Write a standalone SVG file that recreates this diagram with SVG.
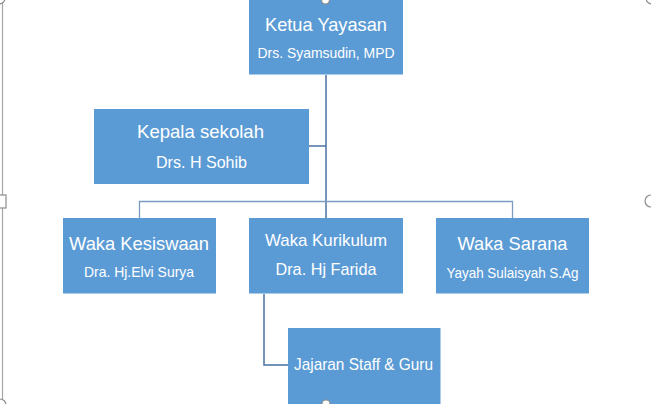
<svg xmlns="http://www.w3.org/2000/svg" width="651" height="404" viewBox="0 0 651 404">
<style>
.box{fill:#5b9bd5;}
.t{font-family:"Liberation Sans","Open Sans",sans-serif;fill:#ffffff;text-anchor:middle;}
.big{font-size:19px;}
.mid{font-size:17px;}
.sm{font-size:14.5px;}
.ln{fill:none;stroke:#4a72a0;stroke-width:1.5;}
.bus{fill:none;stroke:#7b9cc2;stroke-width:1.3;}
.frame{fill:none;stroke:#a6a6a6;stroke-width:1.2;}
.h{fill:#ffffff;stroke:#8c8c8c;stroke-width:1.2;}
</style>
<rect width="651" height="404" fill="#ffffff"/>
<g id="frame">
<line class="frame" x1="2.5" y1="0" x2="2.5" y2="404"/>
<circle class="h" cx="-1" cy="-2" r="6"/>
<circle class="h" cx="652" cy="-2" r="6"/>
<rect class="h" x="-6" y="195" width="12" height="13"/>
<circle class="h" cx="651" cy="201" r="6"/>
<circle class="h" cx="0" cy="405" r="6"/>
</g>
<g id="connectors">
<line class="ln" x1="326" y1="75" x2="326" y2="218"/>
<line class="ln" x1="309" y1="146" x2="326" y2="146"/>
<polyline class="bus" points="139.5,218 139.5,201.5 512.5,201.5 512.5,218"/>
<polyline class="ln" points="264,294 264,365 288,365"/>
</g>
<g id="ketua">
<rect class="box" x="249" y="0" width="154" height="74.5"/>
<text class="t big" x="326" y="30.5" textLength="122" lengthAdjust="spacingAndGlyphs">Ketua Yayasan</text>
<text class="t sm" x="326" y="58" textLength="137" lengthAdjust="spacingAndGlyphs">Drs. Syamsudin, MPD</text>
</g>
<g id="kepala">
<rect class="box" x="94" y="109" width="215" height="75"/>
<text class="t big" x="200.5" y="137.5" textLength="127" lengthAdjust="spacingAndGlyphs">Kepala sekolah</text>
<text class="t mid" x="201.5" y="168" textLength="91" lengthAdjust="spacingAndGlyphs">Drs. H Sohib</text>
</g>
<g id="kesiswaan">
<rect class="box" x="63" y="218" width="153" height="75.5"/>
<text class="t big" x="139" y="250" textLength="140" lengthAdjust="spacingAndGlyphs">Waka Kesiswaan</text>
<text class="t sm" x="139" y="277" textLength="110" lengthAdjust="spacingAndGlyphs">Dra. Hj.Elvi Surya</text>
</g>
<g id="kurikulum">
<rect class="box" x="249" y="218" width="154" height="75.5"/>
<text class="t mid" x="326" y="246" textLength="122" lengthAdjust="spacingAndGlyphs">Waka Kurikulum</text>
<text class="t mid" x="326" y="275" textLength="101" lengthAdjust="spacingAndGlyphs">Dra. Hj Farida</text>
</g>
<g id="sarana">
<rect class="box" x="436" y="218" width="153" height="75.5"/>
<text class="t big" x="512.5" y="250" textLength="110" lengthAdjust="spacingAndGlyphs">Waka Sarana</text>
<text class="t sm" x="512.5" y="277.5" textLength="132" lengthAdjust="spacingAndGlyphs">Yayah Sulaisyah S.Ag</text>
</g>
<g id="jajaran">
<rect class="box" x="288" y="328" width="152.5" height="78"/>
<text class="t mid" x="363.5" y="370" textLength="139" lengthAdjust="spacingAndGlyphs">Jajaran Staff &amp; Guru</text>
</g>
<g id="handles">
<circle class="h" cx="325.5" cy="0" r="4"/>
<circle class="h" cx="326" cy="404" r="4"/>
</g>
</svg>
